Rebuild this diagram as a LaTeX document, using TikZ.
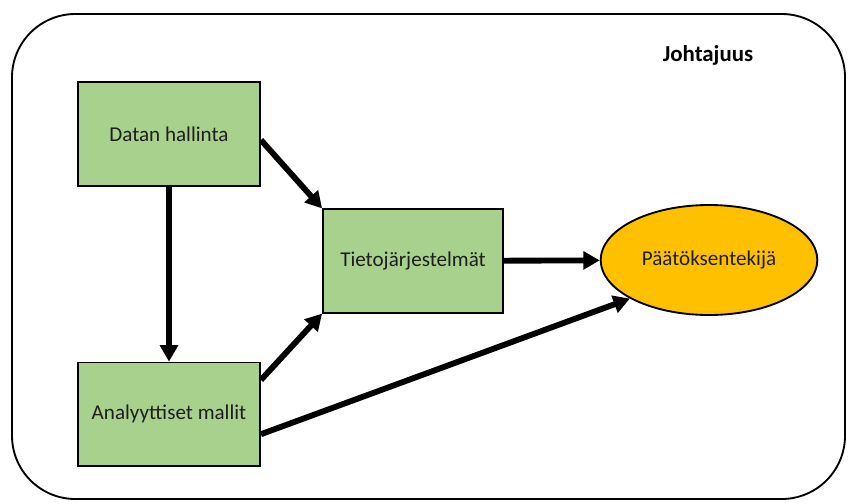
\documentclass[tikz,border=0pt]{standalone}
\usepackage{fontspec}
\setmainfont{Carlito}
\usetikzlibrary{
  arrows.meta,
  positioning,
  shapes.geometric
}
\definecolor{jhgreen}{HTML}{A9D18E}
\definecolor{jhgold}{HTML}{FFC000}
\definecolor{jhtext}{HTML}{1E1E1E}

\begin{document}
\begin{tikzpicture}[
      x=0.03cm, y=-0.03cm,
      box/.style={
        rectangle, draw=black, line width=1.6pt, fill=jhgreen,
        minimum width=5.46cm, minimum height=3.1cm,
        font=\fontsize{18}{21}\selectfont\color{jhtext}, align=center
      },
      goal/.style={
        ellipse, draw=black, line width=1.6pt, fill=jhgold,
        minimum width=6.5cm, minimum height=3.3cm, inner sep=0pt,
        font=\fontsize{18}{21}\selectfont\color{jhtext}
      },
      arrow/.style={-{Triangle[length=14pt, width=15pt]}, line width=5pt, black},
      frame/.style={draw=black, line width=1.6pt, rounded corners=1.9cm}
    ]
      \useasboundingbox (0,0) rectangle (851,503);

      % Outer frame
      \draw[frame] (12,14) rectangle (845,499);
      \node[font=\fontsize{19.5}{22}\selectfont\bfseries] (lead) at (708,55) {Johtajuus};

      % Flow nodes
      \node[box] (datan) at (169,134) {Datan hallinta};
      \node[box, below=5.25cm of datan] (analyyttiset) {Analyyttiset mallit};
      \node[box, minimum width=5.4cm] (tieto) at (413,261) {Tietojärjestelmät};
      \node[goal] (paattaja) at (709,260) {Päätöksentekijä};

      % Arrows
      \draw[arrow] ([yshift=-0.18cm]datan.east) -- (tieto.north west);
      \draw[arrow] (datan) -- (analyyttiset);
      \draw[arrow] ([yshift=-0.55cm]analyyttiset.north east) -- (tieto.south west);
      \draw[arrow] (tieto) -- (paattaja);
      \draw[arrow] ([yshift=-0.6cm]analyyttiset.east) -- (paattaja.206);
    \end{tikzpicture}
\end{document}
